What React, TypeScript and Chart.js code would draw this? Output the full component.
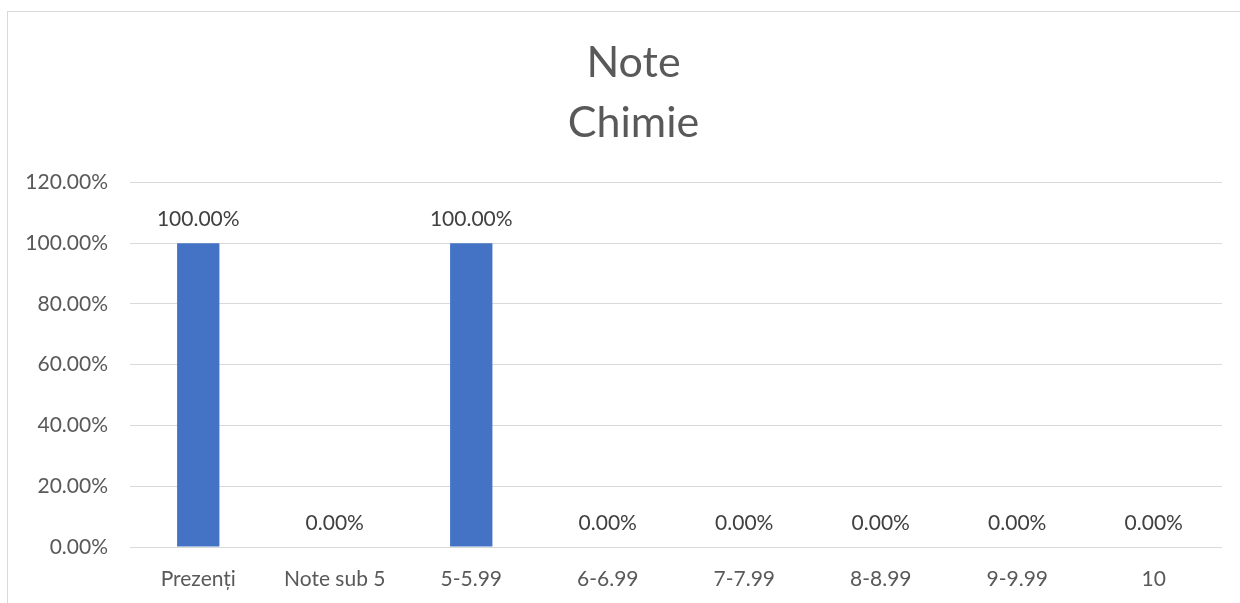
import React, { useEffect, useRef } from 'react';
import { Chart, registerables } from 'chart.js';

Chart.register(...registerables);

const categories = ['Prezenți', 'Note sub 5', '5-5.99', '6-6.99', '7-7.99', '8-8.99', '9-9.99', '10'];
const values = [100, 0, 100, 0, 0, 0, 0, 0];
const titleLines = ['Note', 'Chimie'];
const yMin = 0;
const yMax = 120;
const yStep = 20;

const FONT = 'Lato, "Open Sans", sans-serif';
const TEXT = '#595959';
const TITLE_SIZE = 43;
const TITLE_LH = 1.4;
const TITLE_PAD_TOP = 33;

const borderPlugin = {
  id: 'outerBorder',
  beforeDraw(chart: any) {
    const ctx = chart.ctx;
    ctx.save();
    ctx.strokeStyle = '#d9d9d9';
    ctx.lineWidth = 1;
    ctx.strokeRect(7.5, 11.5, chart.width + 10, chart.height + 10);
    ctx.restore();
  },
};

const titleDrawPlugin = {
  id: 'titleDraw',
  afterDraw(chart: any) {
    const ctx = chart.ctx;
    const lh = TITLE_SIZE * TITLE_LH;
    const tb = chart.titleBlock;
    const top = (tb ? tb.top : 0) + TITLE_PAD_TOP;
    const cx = (7 + chart.width + 20) / 2;
    ctx.save();
    ctx.font = `${TITLE_SIZE}px ${FONT}`;
    ctx.fillStyle = TEXT;
    ctx.textAlign = 'center';
    ctx.textBaseline = 'middle';
    titleLines.forEach((t, i) => {
      ctx.fillText(t, cx, top + lh * i + lh / 2);
    });
    ctx.restore();
  },
};

const labelPlugin = {
  id: 'valueLabels',
  afterDatasetsDraw(chart: any) {
    const ctx = chart.ctx;
    const meta = chart.getDatasetMeta(0);
    ctx.save();
    ctx.font = `21px ${FONT}`;
    ctx.fillStyle = '#404040';
    ctx.textAlign = 'center';
    ctx.textBaseline = 'middle';
    meta.data.forEach((el: any, i: number) => {
      const v = chart.data.datasets[0].data[i] as number;
      ctx.fillText(v.toFixed(2) + '%', el.x, el.y - 24);
    });
    ctx.restore();
  },
};

export default function App() {
  const ref = useRef<HTMLCanvasElement>(null);
  useEffect(() => {
    if (!ref.current) return;
    const chart = new Chart(ref.current, {
      type: 'bar',
      data: {
        labels: categories,
        datasets: [
          {
            data: values,
            backgroundColor: '#4472C4',
            barPercentage: 0.31,
            categoryPercentage: 1,
          },
        ],
      },
      options: {
        animation: false,
        responsive: true,
        maintainAspectRatio: false,
        layout: { padding: { left: 0, right: 18, top: 0, bottom: 0 } },
        plugins: {
          legend: { display: false },
          tooltip: { enabled: false },
          title: {
            display: true,
            text: titleLines,
            color: 'rgba(0,0,0,0)',
            font: { family: FONT, size: TITLE_SIZE, weight: 'normal', lineHeight: TITLE_LH },
            padding: { top: TITLE_PAD_TOP, bottom: 29 },
          },
        },
        scales: {
          x: {
            grid: { display: false, drawTicks: false },
            border: { display: false },
            ticks: { color: TEXT, font: { family: FONT, size: 21 }, padding: 20 },
            afterFit(scale: any) {
              scale.height = 56;
            },
          },
          y: {
            min: yMin,
            max: yMax,
            grid: { color: '#d9d9d9', drawTicks: false },
            border: { display: false },
            ticks: {
              stepSize: yStep,
              color: TEXT,
              font: { family: FONT, size: 21 },
              padding: 22,
              callback: (v: any) => Number(v).toFixed(2) + '%',
            },
            afterFit(scale: any) {
              scale.width = 130;
            },
          },
        },
      },
      plugins: [borderPlugin, labelPlugin, titleDrawPlugin],
    });
    return () => chart.destroy();
  }, []);
  return (
    <div style={{ position: 'absolute', left: 0, top: 0, width: 1240, height: 603, background: '#fff' }}>
      <canvas ref={ref} />
    </div>
  );
}
